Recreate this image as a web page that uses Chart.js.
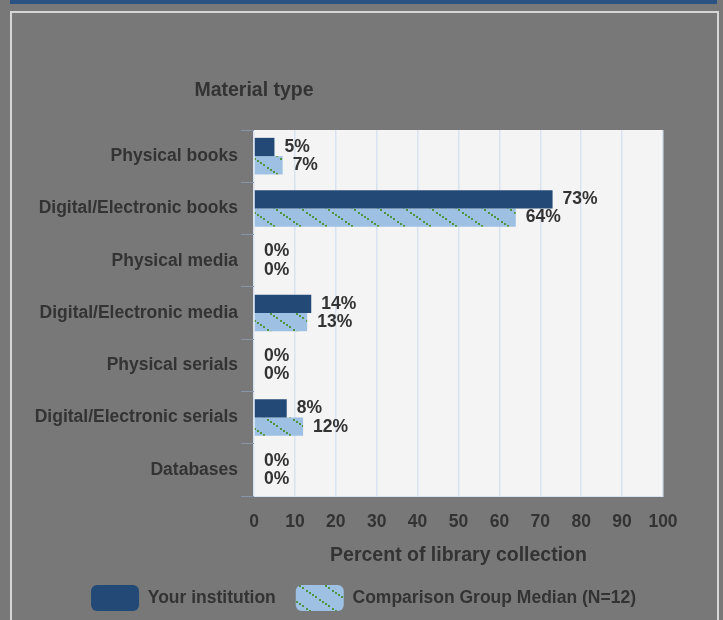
<!DOCTYPE html>
<html>
<head>
<meta charset="utf-8">
<script src="https://cdn.jsdelivr.net/npm/chart.js@4/dist/chart.umd.min.js"></script>
<style>
  html, body { margin: 0; padding: 0; background: #787878; width: 723px; height: 620px; overflow: hidden; }
  #topbar { position: absolute; left: 10px; top: 0; width: 707px; height: 4px; background: #2a5384; }
  #frame { position: absolute; left: 10px; top: 11px; width: 705px; height: 640px; border: 2px solid #d6d6d6; }
  #c { position: absolute; left: 0; top: 0; }
</style>
</head>
<body>
<div id="topbar"></div>
<div id="frame"></div>
<canvas id="c" width="723" height="620"></canvas>
<script>
const categories = [
  'Physical books',
  'Digital/Electronic books',
  'Physical media',
  'Digital/Electronic media',
  'Physical serials',
  'Digital/Electronic serials',
  'Databases'
];
const yourInstitution = [5, 73, 0, 14, 0, 8, 0];
const comparisonMedian = [7, 64, 0, 13, 0, 12, 0];
const xTicks = [0, 10, 20, 30, 40, 50, 60, 70, 80, 90, 100];
const seriesNames = ['Your institution', 'Comparison Group Median (N=12)'];
const yAxisTitle = 'Material type';
const xAxisTitle = 'Percent of library collection';

const FONT = '"Liberation Sans", Arial, Helvetica, sans-serif';
const TEXT = '#333333';

function makePattern() {
  const w = 26, h = 18, n = 8;
  const c = document.createElement('canvas');
  c.width = w; c.height = h;
  const g = c.getContext('2d');
  g.fillStyle = '#9dc0e3';
  g.fillRect(0, 0, w, h);
  g.fillStyle = '#4f963f';
  for (let i = 0; i < n; i++) {
    const t = i / n;
    g.fillRect(Math.round(t * w), Math.round(t * h), 2, 2);
  }
  return g.createPattern(c, 'repeat');
}
const pattern = makePattern();

const plotBg = {
  id: 'plotBg',
  beforeDraw(chart) {
    const {ctx, chartArea: a} = chart;
    ctx.save();
    ctx.fillStyle = '#f4f4f4';
    ctx.fillRect(a.left, a.top, a.right - a.left, a.bottom - a.top);
    ctx.restore();
  }
};

const valueLabels = {
  id: 'valueLabels',
  afterDatasetsDraw(chart) {
    const ctx = chart.ctx;
    ctx.save();
    ctx.font = 'bold 17.5px ' + FONT;
    ctx.fillStyle = TEXT;
    ctx.textAlign = 'left';
    ctx.textBaseline = 'middle';
    chart.data.datasets.forEach((ds, di) => {
      const meta = chart.getDatasetMeta(di);
      meta.data.forEach((el, i) => {
        ctx.fillText(ds.data[i] + '%', el.x + 10, el.y);
      });
    });
    ctx.restore();
  }
};

const topTitle = {
  id: 'topTitle',
  afterDraw(chart) {
    const ctx = chart.ctx;
    ctx.save();
    ctx.font = 'bold 19.5px ' + FONT;
    ctx.fillStyle = TEXT;
    ctx.textAlign = 'center';
    ctx.textBaseline = 'middle';
    ctx.fillText(yAxisTitle, chart.chartArea.left, 91);
    ctx.restore();
  }
};

new Chart(document.getElementById('c'), {
  type: 'bar',
  data: {
    labels: categories,
    datasets: [
      {
        label: seriesNames[0],
        data: yourInstitution,
        backgroundColor: '#234a77',
        borderWidth: 0,
        xAxisID: 'x', yAxisID: 'y',
        categoryPercentage: 0.7,
        barPercentage: 1.0
      },
      {
        label: seriesNames[1],
        data: comparisonMedian,
        backgroundColor: pattern,
        borderWidth: 0,
        xAxisID: 'x', yAxisID: 'y',
        categoryPercentage: 0.7,
        barPercentage: 1.0
      }
    ]
  },
  options: {
    indexAxis: 'y',
    responsive: false,
    animation: false,
    devicePixelRatio: 1,
    layout: { padding: { top: 130, left: 4, right: 0, bottom: -1 } },
    scales: {
      x: {
        type: 'linear',
        position: 'bottom',
        min: 0, max: 100,
        afterBuildTicks(scale) { scale.ticks = xTicks.map(v => ({value: v})); },
        afterFit(scale) { scale.height = 69; },
        grid: { color: '#d9e3ef', lineWidth: 1.5, drawTicks: false },
        border: { display: true, color: '#d9e3ef', width: 1 },
        ticks: {
          padding: 16,
          color: TEXT,
          font: { family: FONT, size: 17.5, weight: 'bold' }
        },
        title: {
          display: true,
          text: xAxisTitle,
          color: TEXT,
          font: { family: FONT, size: 19.5, weight: 'bold', lineHeight: 1 },
          padding: { top: 0, bottom: 0 }
        }
      },
      y: {
        type: 'category',
        position: 'left',
        afterFit(scale) { scale.width = 250; },
        grid: { display: true, drawOnChartArea: false, drawTicks: true, tickLength: 13, color: '#8795a6', offset: true },
        border: { display: false },
        ticks: {
          padding: 3,
          color: TEXT,
          font: { family: FONT, size: 17.5, weight: 'bold' }
        }
      },
      yRight: {
        type: 'category',
        position: 'right',
        display: true,
        afterFit(scale) { scale.width = 60; },
        grid: { display: false },
        border: { display: false },
        ticks: { display: false }
      }
    },
    plugins: {
      legend: {
        display: true,
        position: 'bottom',
        labels: {
          boxWidth: 48,
          boxHeight: 26,
          padding: 20,
          useBorderRadius: true,
          borderRadius: 6,
          color: TEXT,
          font: { family: FONT, size: 17.5, weight: 'bold' }
        }
      },
      tooltip: { enabled: false }
    }
  },
  plugins: [plotBg, valueLabels, topTitle]
});
</script>
</body>
</html>
